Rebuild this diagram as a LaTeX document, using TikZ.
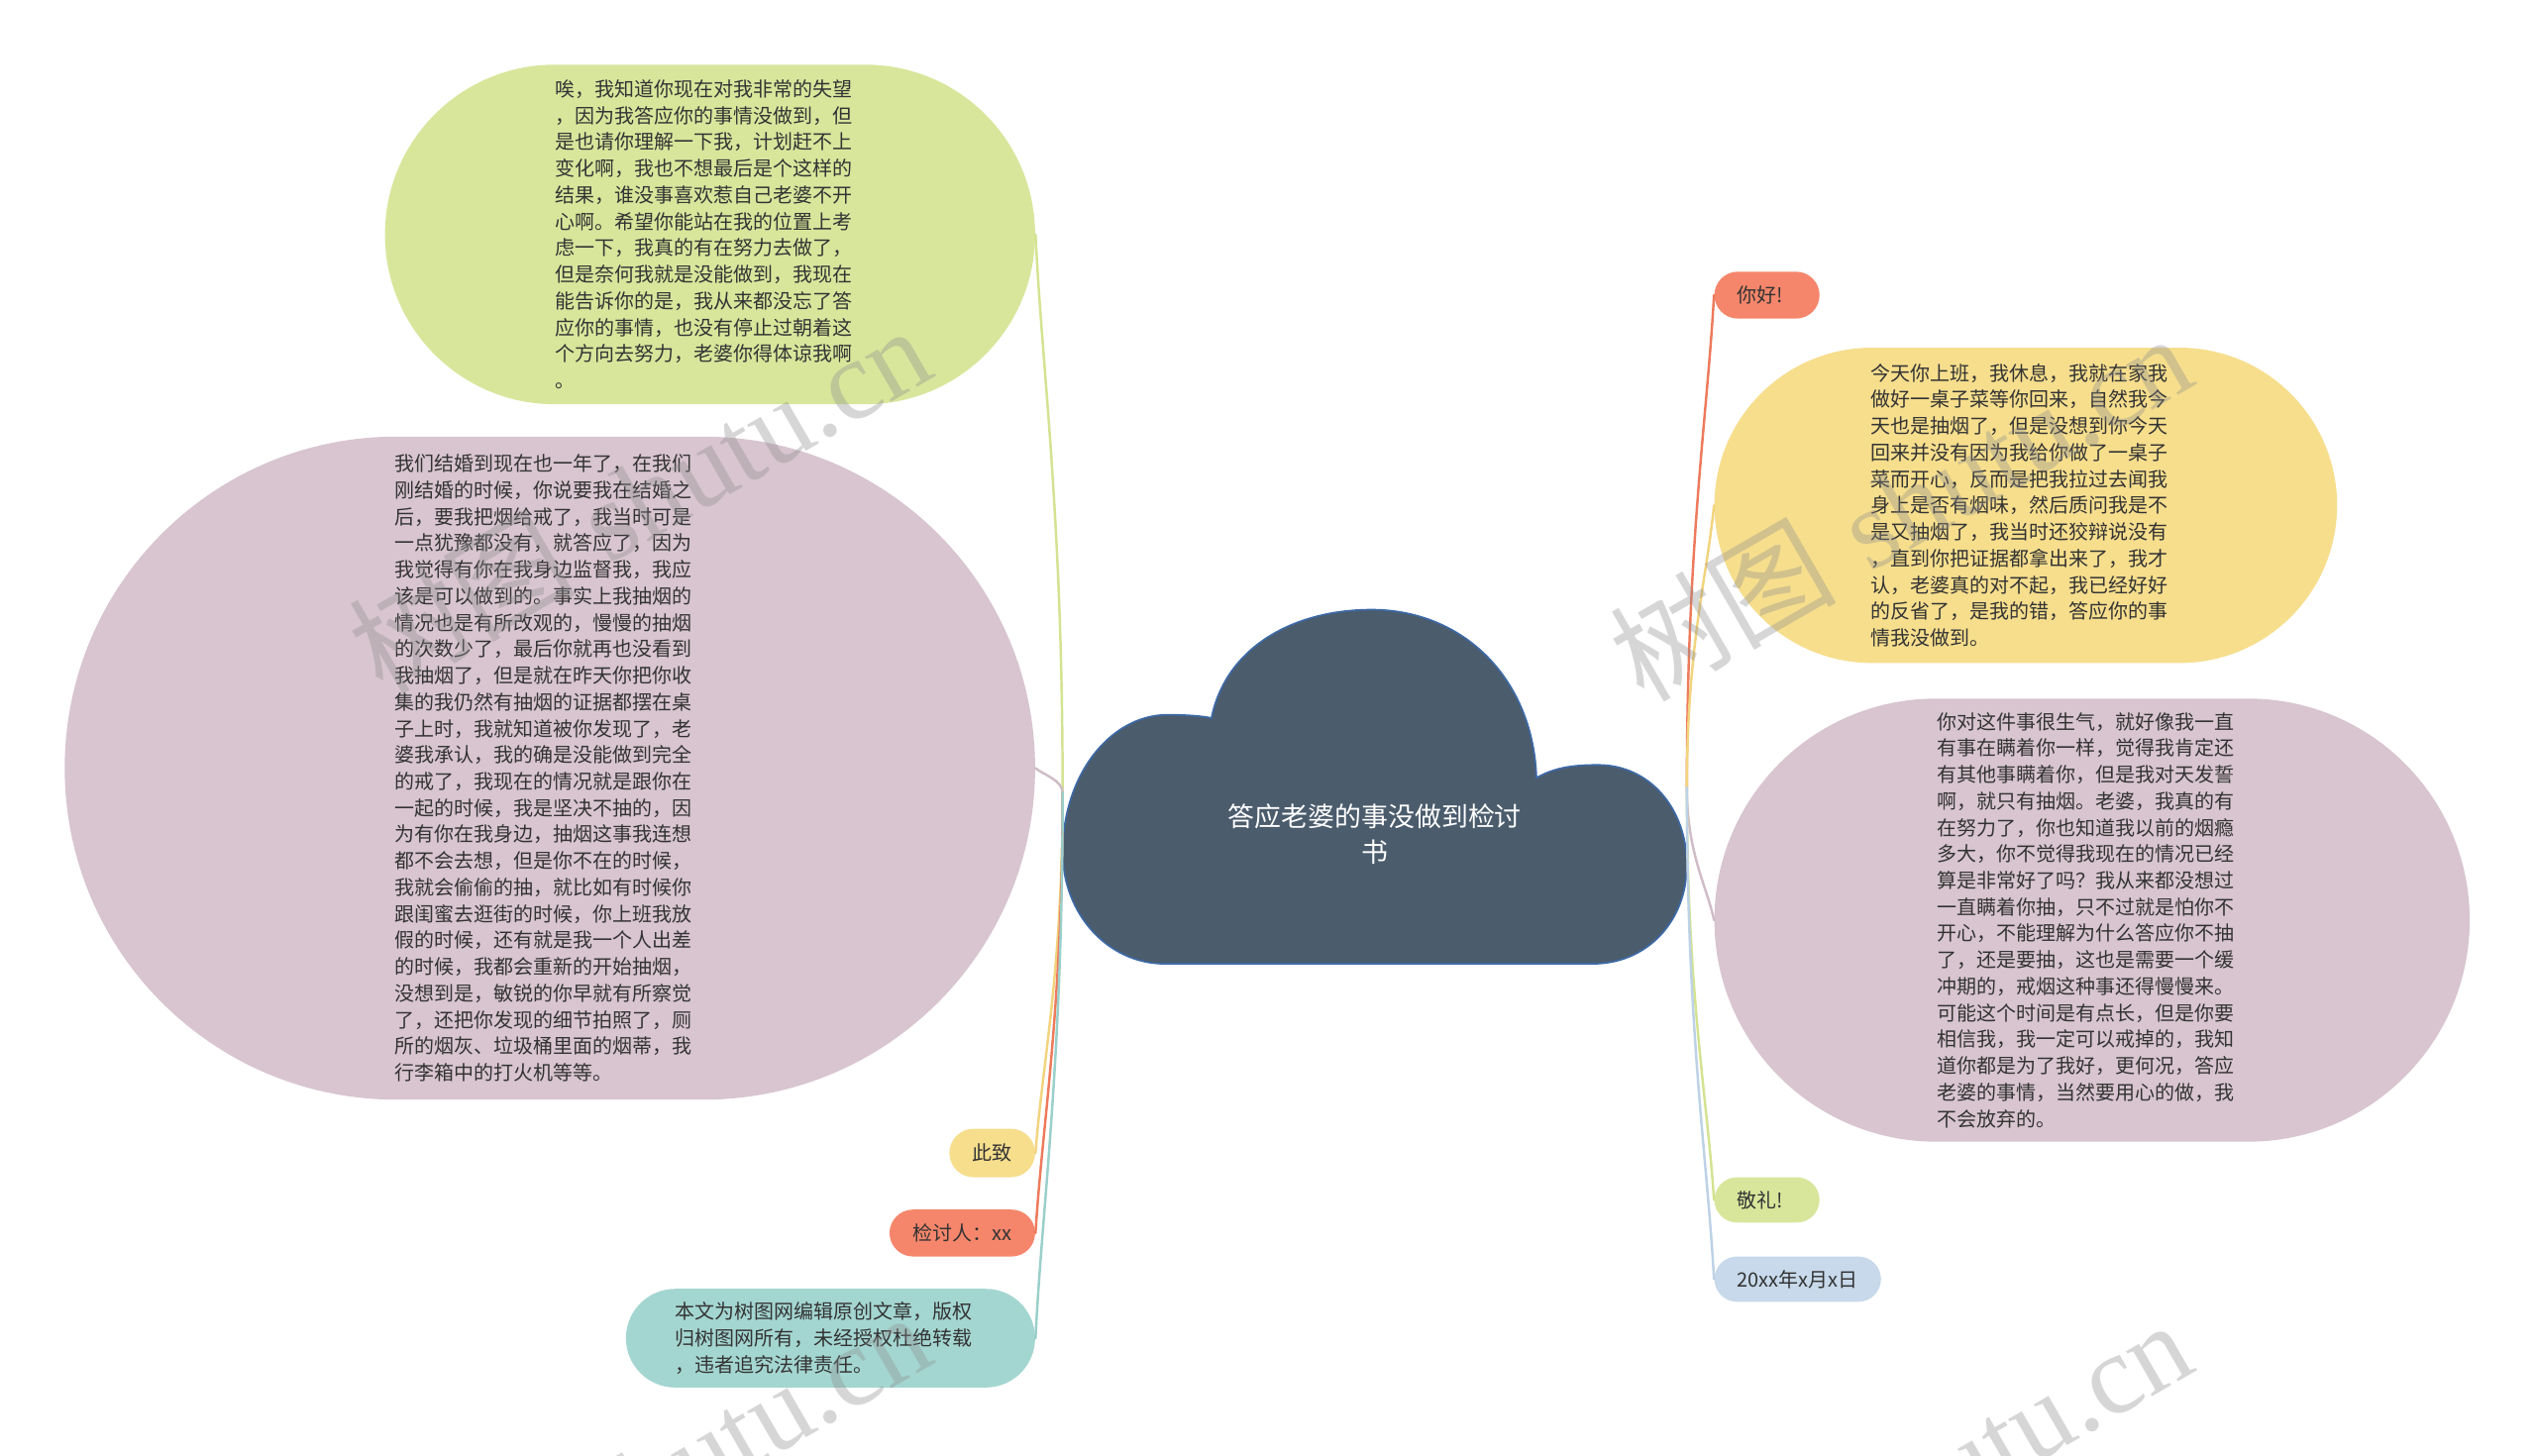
\documentclass[tikz,border=0pt]{standalone}
\usepackage{fontspec}
\newfontfamily\cjk{Noto Sans CJK SC}
\newfontfamily\wmserif{Liberation Serif}
\usetikzlibrary{calc}
\definecolor{cgreen}{HTML}{D8E69C}
\definecolor{cmauve}{HTML}{D8C5CF}
\definecolor{cyellow}{HTML}{F6DE8D}
\definecolor{corange}{HTML}{F5866B}
\definecolor{cteal}{HTML}{A4D6D1}
\definecolor{cblue}{HTML}{C7D9EA}
\definecolor{ccloud}{HTML}{4B5C6D}
\definecolor{cedge}{HTML}{3D6AA8}
\definecolor{ctext}{HTML}{333333}
\definecolor{lgreen}{HTML}{D3E391}
\definecolor{lmauve}{HTML}{D0BCC7}
\definecolor{lyellow}{HTML}{F2D47E}
\definecolor{lorange}{HTML}{EE7A5C}
\definecolor{lteal}{HTML}{9ACFCA}
\definecolor{lblue}{HTML}{BDD2E6}
\begin{document}
\begin{tikzpicture}[x=0.8pt,y=-0.8pt,
  bub/.style={draw=none, inner sep=0pt, align=left, text=ctext,
    font=\cjk\fontsize{9.8pt}{13.1pt}\selectfont},
  txt/.style={inner sep=0pt, align=left, text=ctext,
    font=\cjk\fontsize{9.8pt}{13.1pt}\selectfont},
  cn/.style={line width=1.2pt, line cap=round},
  wm/.style={text=black!45, opacity=0.35, rotate=30, inner sep=0pt,
    font=\fontsize{56pt}{60pt}\selectfont}
]
\useasboundingbox[fill=white] (0,0) rectangle (1568,900);

% ---------- central cloud ----------
\draw[fill=ccloud, draw=cedge, line width=0.8pt]
  (720,596) .. controls (685,596) and (657,565) .. (657,527)
  .. controls (657,480) and (686,442) .. (722,442)
  .. controls (735,442) and (745,443) .. (749,444)
  .. controls (758,400) and (800,377) .. (848,377)
  .. controls (905,377) and (948,420) .. (950,481)
  .. controls (962,474) and (975,473) .. (988,473)
  .. controls (1020,473) and (1043,500) .. (1043,535)
  .. controls (1043,570) and (1018,596) .. (985,596)
  -- cycle;
\node[align=center, text=white, inner sep=0pt,
  font=\cjk\fontsize{13.2pt}{17.6pt}\selectfont] (root) at (850,516)
  {答应老婆的事没做到检讨\\书};

\coordinate (L) at (657,490);
\coordinate (R) at (1043,487);

% ---------- left nodes ----------
\node[bub, fill=cgreen, minimum width=321.6pt, minimum height=168pt,
  rounded corners=84pt] (g1) at (439,145) {};
\node[txt] (g1t) at ([xshift=-3.2pt]g1.center)
  {唉，我知道你现在对我非常的失望\\
  ，因为我答应你的事情没做到，但\\
  是也请你理解一下我，计划赶不上\\
  变化啊，我也不想最后是个这样的\\
  结果，谁没事喜欢惹自己老婆不开\\
  心啊。希望你能站在我的位置上考\\
  虑一下，我真的有在努力去做了，\\
  但是奈何我就是没能做到，我现在\\
  能告诉你的是，我从来都没忘了答\\
  应你的事情，也没有停止过朝着这\\
  个方向去努力，老婆你得体谅我啊\\
  。};

\node[bub, fill=cmauve, minimum width=480pt, minimum height=328pt,
  rounded corners=164pt] (m1) at (340,475) {};
\node[txt] (m1t) at ([xshift=-3.2pt]m1.center)
  {我们结婚到现在也一年了，在我们\\
  刚结婚的时候，你说要我在结婚之\\
  后，要我把烟给戒了，我当时可是\\
  一点犹豫都没有，就答应了，因为\\
  我觉得有你在我身边监督我，我应\\
  该是可以做到的。事实上我抽烟的\\
  情况也是有所改观的，慢慢的抽烟\\
  的次数少了，最后你就再也没看到\\
  我抽烟了，但是就在昨天你把你收\\
  集的我仍然有抽烟的证据都摆在桌\\
  子上时，我就知道被你发现了，老\\
  婆我承认，我的确是没能做到完全\\
  的戒了，我现在的情况就是跟你在\\
  一起的时候，我是坚决不抽的，因\\
  为有你在我身边，抽烟这事我连想\\
  都不会去想，但是你不在的时候，\\
  我就会偷偷的抽，就比如有时候你\\
  跟闺蜜去逛街的时候，你上班我放\\
  假的时候，还有就是我一个人出差\\
  的时候，我都会重新的开始抽烟，\\
  没想到是，敏锐的你早就有所察觉\\
  了，还把你发现的细节拍照了，厕\\
  所的烟灰、垃圾桶里面的烟蒂，我\\
  行李箱中的打火机等等。};

\node[bub, fill=cyellow, minimum width=42.4pt, minimum height=24pt,
  rounded corners=12pt] (cz) at (613.5,713) {此致};
\node[bub, fill=corange, minimum width=72pt, minimum height=23.2pt,
  rounded corners=11.6pt] (jt) at (595,762.5) {检讨人：xx};
\node[bub, fill=cteal, minimum width=202.4pt, minimum height=48.8pt,
  rounded corners=24.4pt] (cp) at (513.5,827.5) {};
\node[txt] (cpt) at ([xshift=-3.2pt]cp.center)
  {本文为树图网编辑原创文章，版权\\
  归树图网所有，未经授权杜绝转载\\
  ，违者追究法律责任。};

% ---------- right nodes ----------
\node[bub, fill=corange, minimum width=52pt, minimum height=23.2pt,
  rounded corners=11.6pt] (nh) at (1092.5,182.5) {};
\node[txt] (nht) at ([xshift=-3.2pt]nh.center) {你好!};
\node[bub, fill=cyellow, minimum width=308pt, minimum height=156pt,
  rounded corners=78pt] (y1) at (1252.5,312.5) {};
\node[txt] (y1t) at ([xshift=-3.2pt]y1.center)
  {今天你上班，我休息，我就在家我\\
  做好一桌子菜等你回来，自然我今\\
  天也是抽烟了，但是没想到你今天\\
  回来并没有因为我给你做了一桌子\\
  菜而开心，反而是把我拉过去闻我\\
  身上是否有烟味，然后质问我是不\\
  是又抽烟了，我当时还狡辩说没有\\
  ，直到你把证据都拿出来了，我才\\
  认，老婆真的对不起，我已经好好\\
  的反省了，是我的错，答应你的事\\
  情我没做到。};
\node[bub, fill=cmauve, minimum width=373.6pt, minimum height=219.2pt,
  rounded corners=109.6pt] (m2) at (1293.5,569) {};
\node[txt] (m2t) at ([xshift=-3.2pt]m2.center)
  {你对这件事很生气，就好像我一直\\
  有事在瞒着你一样，觉得我肯定还\\
  有其他事瞒着你，但是我对天发誓\\
  啊，就只有抽烟。老婆，我真的有\\
  在努力了，你也知道我以前的烟瘾\\
  多大，你不觉得我现在的情况已经\\
  算是非常好了吗？我从来都没想过\\
  一直瞒着你抽，只不过就是怕你不\\
  开心，不能理解为什么答应你不抽\\
  了，还是要抽，这也是需要一个缓\\
  冲期的，戒烟这种事还得慢慢来。\\
  可能这个时间是有点长，但是你要\\
  相信我，我一定可以戒掉的，我知\\
  道你都是为了我好，更何况，答应\\
  老婆的事情，当然要用心的做，我\\
  不会放弃的。};
\node[bub, fill=cgreen, minimum width=52pt, minimum height=22.4pt,
  rounded corners=11.2pt] (jl) at (1092.5,742) {};
\node[txt] (jlt) at ([xshift=-3.2pt]jl.center) {敬礼!};
\node[bub, fill=cblue, minimum width=82.4pt, minimum height=22.4pt,
  rounded corners=11.2pt] (dt) at (1111.5,791) {20xx年x月x日};

% ---------- connectors ----------
\foreach \n/\c in {g1/lgreen, m1/lmauve, cz/lyellow, jt/lorange, cp/lteal}{
  \draw[cn, \c] (L) .. controls ($(L)!0.5!(L|-\n.east)$) and ($(\n.east)!0.25!(L)$) .. (\n.east);
}
\foreach \n/\c in {nh/lorange, y1/lyellow, m2/lmauve, jl/lgreen, dt/lblue}{
  \draw[cn, \c] (R) .. controls ($(R)!0.5!(R|-\n.west)$) and ($(\n.west)!0.25!(R)$) .. (\n.west);
}

% ---------- watermarks ----------
\node[wm] (w1) at (395,308) {{\cjk 树图} {\wmserif shutu.cn}};
\node[wm] (w2) at (1175,313) {{\cjk 树图} {\wmserif shutu.cn}};
\node[wm] (w3) at (395,918) {{\cjk 树图} {\wmserif shutu.cn}};
\node[wm] (w4) at (1175,923) {{\cjk 树图} {\wmserif shutu.cn}};
\end{tikzpicture}
\end{document}
